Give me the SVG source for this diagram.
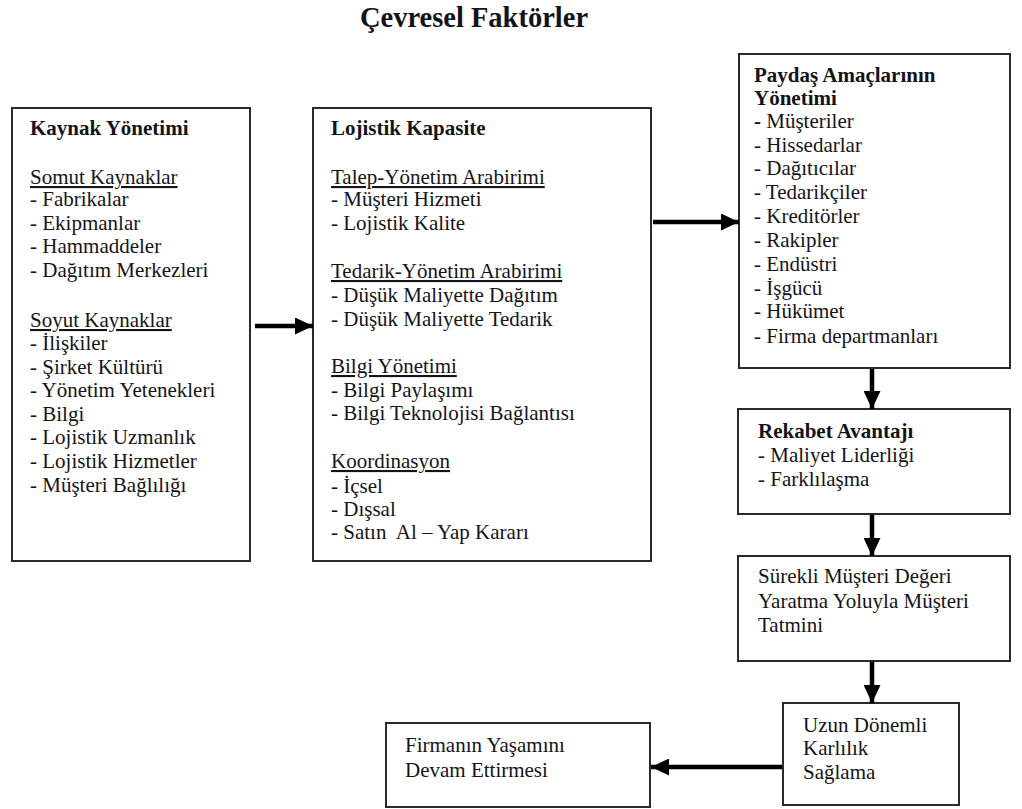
<svg xmlns="http://www.w3.org/2000/svg" width="1022" height="809" viewBox="0 0 1022 809">
<style>
.b{font-weight:bold}
.u{text-decoration:underline}
.box{fill:#fff;stroke:#2a2a2a;stroke-width:2}
.conn{stroke:#000;stroke-width:4.5;fill:none}
</style>
<defs>
<marker id="ah" markerUnits="userSpaceOnUse" markerWidth="18" markerHeight="17" refX="18" refY="8.5" orient="auto">
<path d="M0,0 L18,8.5 L0,17 z" fill="#000"/>
</marker>
</defs>
<rect width="1022" height="809" fill="#fff"/>
<text x="474" y="27" text-anchor="middle" font-family="Liberation Serif, serif" font-size="28.5" font-weight="bold" fill="#141418">Çevresel Faktörler</text>

<g id="kaynak">
<rect class="box" x="12" y="108" width="238" height="453"/>
<text class="b" x="30" y="135" font-family="Liberation Serif, serif" font-size="21" fill="#141418">Kaynak Yönetimi</text>
<text class="u" x="30" y="184" font-family="Liberation Serif, serif" font-size="21" fill="#141418">Somut Kaynaklar</text>
<text x="30" y="206" font-family="Liberation Serif, serif" font-size="21" fill="#141418">- Fabrikalar</text>
<text x="30" y="230" font-family="Liberation Serif, serif" font-size="21" fill="#141418">- Ekipmanlar</text>
<text x="30" y="253" font-family="Liberation Serif, serif" font-size="21" fill="#141418">- Hammaddeler</text>
<text x="30" y="277" font-family="Liberation Serif, serif" font-size="21" fill="#141418">- Dağıtım Merkezleri</text>
<text class="u" x="30" y="327" font-family="Liberation Serif, serif" font-size="21" fill="#141418">Soyut Kaynaklar</text>
<text x="30" y="350" font-family="Liberation Serif, serif" font-size="21" fill="#141418">- İlişkiler</text>
<text x="30" y="374" font-family="Liberation Serif, serif" font-size="21" fill="#141418">- Şirket Kültürü</text>
<text x="30" y="397" font-family="Liberation Serif, serif" font-size="21" fill="#141418">- Yönetim Yetenekleri</text>
<text x="30" y="421" font-family="Liberation Serif, serif" font-size="21" fill="#141418">- Bilgi</text>
<text x="30" y="444" font-family="Liberation Serif, serif" font-size="21" fill="#141418">- Lojistik Uzmanlık</text>
<text x="30" y="468" font-family="Liberation Serif, serif" font-size="21" fill="#141418">- Lojistik Hizmetler</text>
<text x="30" y="492" font-family="Liberation Serif, serif" font-size="21" fill="#141418">- Müşteri Bağlılığı</text>
</g>

<g id="lojistik">
<rect class="box" x="313" y="108" width="338" height="453"/>
<text class="b" x="331" y="135" font-family="Liberation Serif, serif" font-size="21" fill="#141418">Lojistik Kapasite</text>
<text class="u" x="331" y="184" font-family="Liberation Serif, serif" font-size="21" fill="#141418">Talep-Yönetim Arabirimi</text>
<text x="331" y="206" font-family="Liberation Serif, serif" font-size="21" fill="#141418">- Müşteri Hizmeti</text>
<text x="331" y="230" font-family="Liberation Serif, serif" font-size="21" fill="#141418">- Lojistik Kalite</text>
<text class="u" x="331" y="278" font-family="Liberation Serif, serif" font-size="21" fill="#141418">Tedarik-Yönetim Arabirimi</text>
<text x="331" y="302" font-family="Liberation Serif, serif" font-size="21" fill="#141418">- Düşük Maliyette Dağıtım</text>
<text x="331" y="326" font-family="Liberation Serif, serif" font-size="21" fill="#141418">- Düşük Maliyette Tedarik</text>
<text class="u" x="331" y="373" font-family="Liberation Serif, serif" font-size="21" fill="#141418">Bilgi Yönetimi</text>
<text x="331" y="397" font-family="Liberation Serif, serif" font-size="21" fill="#141418">- Bilgi Paylaşımı</text>
<text x="331" y="420" font-family="Liberation Serif, serif" font-size="21" fill="#141418">- Bilgi Teknolojisi Bağlantısı</text>
<text class="u" x="331" y="468" font-family="Liberation Serif, serif" font-size="21" fill="#141418">Koordinasyon</text>
<text x="331" y="493" font-family="Liberation Serif, serif" font-size="21" fill="#141418">- İçsel</text>
<text x="331" y="516" font-family="Liberation Serif, serif" font-size="21" fill="#141418">- Dışsal</text>
<text x="331" y="539" font-family="Liberation Serif, serif" font-size="21" fill="#141418">- Satın&#160; Al – Yap Kararı</text>
</g>

<g id="paydas">
<rect class="box" x="739" y="54" width="271" height="314"/>
<text class="b" x="754" y="82" font-family="Liberation Serif, serif" font-size="21" fill="#141418">Paydaş Amaçlarının</text>
<text class="b" x="754" y="105" font-family="Liberation Serif, serif" font-size="21" fill="#141418">Yönetimi</text>
<text x="754" y="128" font-family="Liberation Serif, serif" font-size="21" fill="#141418"><tspan class="b">-</tspan> Müşteriler</text>
<text x="754" y="152" font-family="Liberation Serif, serif" font-size="21" fill="#141418">- Hissedarlar</text>
<text x="754" y="175" font-family="Liberation Serif, serif" font-size="21" fill="#141418">- Dağıtıcılar</text>
<text x="754" y="199" font-family="Liberation Serif, serif" font-size="21" fill="#141418">- Tedarikçiler</text>
<text x="754" y="223" font-family="Liberation Serif, serif" font-size="21" fill="#141418">- Kreditörler</text>
<text x="754" y="247" font-family="Liberation Serif, serif" font-size="21" fill="#141418">- Rakipler</text>
<text x="754" y="271" font-family="Liberation Serif, serif" font-size="21" fill="#141418">- Endüstri</text>
<text x="754" y="295" font-family="Liberation Serif, serif" font-size="21" fill="#141418">- İşgücü</text>
<text x="754" y="318" font-family="Liberation Serif, serif" font-size="21" fill="#141418">- Hükümet</text>
<text x="754" y="343" font-family="Liberation Serif, serif" font-size="21" fill="#141418">- Firma departmanları</text>
</g>

<g id="rekabet">
<rect class="box" x="738" y="409" width="272" height="105"/>
<text class="b" x="758" y="438" font-family="Liberation Serif, serif" font-size="21" fill="#141418">Rekabet Avantajı</text>
<text x="758" y="462" font-family="Liberation Serif, serif" font-size="21" fill="#141418">- Maliyet Liderliği</text>
<text x="758" y="486" font-family="Liberation Serif, serif" font-size="21" fill="#141418">- Farklılaşma</text>
</g>

<g id="surekli">
<rect class="box" x="738" y="556" width="272" height="105"/>
<text x="758" y="583" font-family="Liberation Serif, serif" font-size="21" fill="#141418">Sürekli Müşteri Değeri</text>
<text x="758" y="608" font-family="Liberation Serif, serif" font-size="21" fill="#141418">Yaratma Yoluyla Müşteri</text>
<text x="758" y="632" font-family="Liberation Serif, serif" font-size="21" fill="#141418">Tatmini</text>
</g>

<g id="uzun">
<rect class="box" x="783" y="703" width="176" height="102"/>
<text x="803" y="732" font-family="Liberation Serif, serif" font-size="21" fill="#141418">Uzun Dönemli</text>
<text x="803" y="755" font-family="Liberation Serif, serif" font-size="21" fill="#141418">Karlılık</text>
<text x="803" y="779" font-family="Liberation Serif, serif" font-size="21" fill="#141418">Sağlama</text>
</g>

<g id="firma">
<rect class="box" x="386" y="723" width="264" height="84"/>
<text x="405" y="752" font-family="Liberation Serif, serif" font-size="21" fill="#141418">Firmanın Yaşamını</text>
<text x="405" y="777" font-family="Liberation Serif, serif" font-size="21" fill="#141418">Devam Ettirmesi</text>
</g>

<g id="connectors">
<line class="conn" x1="255" y1="326" x2="313" y2="326" marker-end="url(#ah)"/>
<line class="conn" x1="653" y1="222" x2="739" y2="222" marker-end="url(#ah)"/>
<line class="conn" x1="872" y1="369" x2="872" y2="409" marker-end="url(#ah)"/>
<line class="conn" x1="872" y1="515" x2="872" y2="556" marker-end="url(#ah)"/>
<line class="conn" x1="872" y1="662" x2="872" y2="703" marker-end="url(#ah)"/>
<line class="conn" x1="782" y1="767" x2="651" y2="767" marker-end="url(#ah)"/>
</g>
</svg>
